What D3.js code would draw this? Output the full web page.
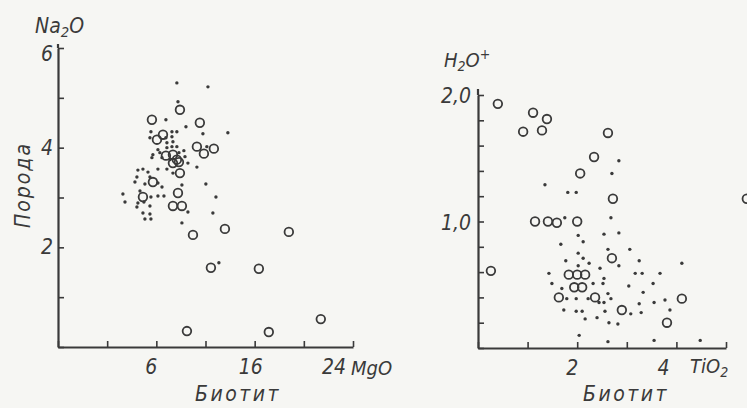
<!DOCTYPE html>
<html><head><meta charset="utf-8">
<script src="https://cdn.jsdelivr.net/npm/d3@7"></script>
<style>
html,body{margin:0;padding:0;background:#f6f6f3;}
svg{display:block;}
text{font-family:"Liberation Sans Narrow","DejaVu Sans Condensed","Liberation Sans",sans-serif;font-style:italic;fill:#3a3a3a;}
</style></head><body>
<svg id="c" width="747" height="408"></svg>
<script>
// ---------- Left panel: Na2O (rock) vs MgO (biotite) ----------
const leftOpenMgO  = [9.92,7.64,11.54,8.54,8.05,11.30,11.87,12.68,8.78,9.35,9.67,9.35,9.84,9.92,7.72,6.91,9.76,9.35,10.08,10.98,13.58,18.78,12.44,16.34,10.49,17.15,21.38];
const leftOpenNa2O = [4.76,4.56,4.50,4.26,4.16,4.02,3.88,3.98,3.84,3.86,3.76,3.69,3.71,3.49,3.31,3.01,3.09,2.83,2.83,2.25,2.37,2.31,1.59,1.57,0.32,0.30,0.56];
const leftDotMgO  = [9.67,12.20,9.76,8.78,10.41,11.79,13.82,7.56,9.27,9.67,7.48,8.78,9.27,8.86,9.35,12.11,8.13,8.86,9.27,9.67,7.72,8.29,9.84,10.24,7.64,8.46,10.33,9.11,10.57,11.30,6.50,6.91,7.32,8.13,8.86,9.35,6.42,7.48,6.26,7.07,8.13,8.46,10.08,12.03,6.67,5.28,7.56,8.13,8.62,5.45,6.50,6.99,12.85,6.42,7.48,10.57,12.60,6.91,7.48,7.07,7.56,10.08,13.09];
const leftDotNa2O = [5.30,5.22,4.92,4.56,4.42,4.28,4.30,4.32,4.32,4.32,4.20,4.20,4.22,4.10,4.12,4.02,3.96,4.00,4.02,4.02,3.86,3.90,3.90,3.94,3.80,3.80,3.82,3.76,3.69,3.61,3.55,3.57,3.51,3.57,3.57,3.49,3.41,3.41,3.31,3.27,3.29,3.21,3.25,3.27,3.13,3.07,3.01,3.03,3.03,2.91,2.89,2.91,3.01,2.81,2.83,2.71,2.69,2.69,2.67,2.57,2.57,2.49,1.69];
const leftXTicks = [0,4,8,12,16,20,24];
const leftXLabelValues = [8,16,24];
const leftXLabelTexts  = ["6","16","24"];
const leftYTicks = [0,1,2,3,4,5,6];
const leftYLabelValues = [2,4,6];
const leftYLabelTexts  = ["2","4","6"];

// ---------- Right panel: H2O+ (rock) vs TiO2 (biotite) ----------
const rightOpenTiO2 = [0.40,1.11,1.39,0.91,1.29,2.62,2.34,2.06,2.72,1.15,1.41,1.59,2.00,0.26,2.70,1.83,2.00,2.16,1.94,2.10,1.63,2.36,2.90,4.11,3.81,5.42];
const rightOpenH2O  = [1.93,1.86,1.81,1.71,1.72,1.70,1.51,1.38,1.18,1.00,1.00,0.99,1.00,0.61,0.71,0.58,0.58,0.58,0.48,0.48,0.40,0.40,0.30,0.39,0.20,1.18];
const rightDotTiO2 = [2.84,2.70,1.35,1.81,1.98,2.68,1.75,2.02,2.54,2.84,1.67,2.12,2.62,3.06,2.02,1.77,2.12,2.24,2.02,2.84,3.25,4.11,2.46,1.43,3.17,3.31,3.67,2.54,1.49,1.69,2.32,2.52,3.04,3.53,3.33,1.79,1.98,2.22,2.62,2.68,2.44,2.54,3.25,3.55,3.77,3.87,1.73,1.98,2.10,2.56,3.08,3.29,2.16,2.40,2.64,2.82,2.04,2.62,3.55,4.48];
const rightDotH2O  = [1.48,1.38,1.29,1.23,1.23,1.03,1.03,0.89,0.90,0.91,0.82,0.84,0.78,0.78,0.75,0.69,0.71,0.67,0.65,0.65,0.69,0.67,0.63,0.59,0.59,0.59,0.59,0.55,0.51,0.47,0.51,0.51,0.49,0.51,0.44,0.39,0.39,0.39,0.43,0.39,0.36,0.36,0.35,0.36,0.38,0.30,0.30,0.29,0.29,0.29,0.27,0.28,0.23,0.24,0.20,0.19,0.10,0.05,0.06,0.06];
const rightXTicks = [0,1,2,3,4,5];
const rightXLabelValues = [2,4];
const rightXLabelTexts  = ["2","4"];
const rightYTicks = [0,0.2,0.4,0.6,0.8,1.0,1.2,1.4,1.6,1.8,2.0];
const rightYLabelValues = [1,2];
const rightYLabelTexts  = ["1,0","2,0"];

const ink = "#3a3a3a";
const svg = d3.select("#c");

function panel(cfg){
  const x = d3.scaleLinear().domain(cfg.xDomain).range(cfg.xRange);
  const y = d3.scaleLinear().domain(cfg.yDomain).range(cfg.yRange);
  const g = svg.append("g");
  const ax = g.append("g").attr("transform",`translate(0,${cfg.yRange[0]})`)
    .call(d3.axisBottom(x).tickValues(cfg.xTicks).tickSize(-6).tickSizeOuter(0).tickFormat(""));
  const ay = g.append("g").attr("transform",`translate(${cfg.xRange[0]},0)`)
    .call(d3.axisLeft(y).tickValues(cfg.yTicks).tickSize(-6).tickSizeOuter(0).tickFormat(""));
  [ax,ay].forEach(a=>{
    a.select(".domain").attr("stroke",ink).attr("stroke-width",2.2);
    a.selectAll(".tick line").attr("stroke",ink).attr("stroke-width",1.6);
  });
  g.append("line").attr("x1",cfg.xRange[0]).attr("x2",cfg.xRange[0])
    .attr("y1",cfg.yRange[1]).attr("y2",cfg.yRange[1]-cfg.yExt)
    .attr("stroke",ink).attr("stroke-width",2.2);
  g.selectAll(null).data(cfg.xLabelValues).join("text")
    .attr("x",(d,i)=>x(d)+cfg.xLabelDx[i]).attr("y",cfg.yRange[0]+27)
    .attr("text-anchor","middle").attr("font-size",21).text((d,i)=>cfg.xLabelTexts[i]);
  g.selectAll(null).data(cfg.yLabelValues).join("text")
    .attr("x",cfg.yLabelX).attr("y",(d,i)=>y(d)+7+cfg.yLabelDy[i])
    .attr("text-anchor","end").attr("font-size",21).text((d,i)=>cfg.yLabelTexts[i]);
  g.selectAll(null).data(cfg.dotX).join("circle")
    .attr("cx",d=>x(d)).attr("cy",(d,i)=>y(cfg.dotY[i])).attr("r",1.7).attr("fill",ink);
  g.selectAll(null).data(cfg.openX).join("circle")
    .attr("cx",d=>x(d)).attr("cy",(d,i)=>y(cfg.openY[i])).attr("r",4.3)
    .attr("fill","none").attr("stroke",ink).attr("stroke-width",1.8);
  return {x,y,g};
}

panel({xDomain:[0,24],xRange:[58,353],yDomain:[0,6],yRange:[347,48],yExt:4,
  xTicks:leftXTicks,yTicks:leftYTicks,
  xLabelValues:leftXLabelValues,xLabelTexts:leftXLabelTexts,xLabelDx:[-5,-4,-19],
  yLabelValues:leftYLabelValues,yLabelTexts:leftYLabelTexts,yLabelX:53,yLabelDy:[0,0,6],
  openX:leftOpenMgO,openY:leftOpenNa2O,dotX:leftDotMgO,dotY:leftDotNa2O});

panel({xDomain:[0,5],xRange:[478,726],yDomain:[0,2],yRange:[348,95],yExt:6,
  xTicks:rightXTicks,yTicks:rightYTicks,
  xLabelValues:rightXLabelValues,xLabelTexts:rightXLabelTexts,xLabelDx:[-5,-13],
  yLabelValues:rightYLabelValues,yLabelTexts:rightYLabelTexts,yLabelX:471,yLabelDy:[1,1],
  openX:rightOpenTiO2,openY:rightOpenH2O,dotX:rightDotTiO2,dotY:rightDotH2O});

function chem(x,y,parts,size,anchor){
  const t = svg.append("text").attr("x",x).attr("y",y).attr("font-size",size).attr("text-anchor",anchor||"start");
  parts.forEach(p=>{
    const s = t.append("tspan").text(p.t);
    if(p.sub) s.attr("font-size",size*0.7).attr("dy",4);
    if(p.sup) s.attr("font-size",size*0.7).attr("dy",-8);
    if(p.back) s.attr("dy",p.back);
  });
  return t;
}
chem(35,33,[{t:"Na"},{t:"2",sub:true},{t:"O",back:-4}],21);
chem(351,375,[{t:"MgO"}],20);
chem(444,67,[{t:"H"},{t:"2",sub:true},{t:"O",back:-4},{t:"+",sup:true}],20);
chem(690,373,[{t:"TiO"},{t:"2",sub:true}],20);

svg.append("text").attr("x",238).attr("y",401).attr("text-anchor","middle")
  .attr("font-size",21).attr("letter-spacing",2.5).text("Биотит");
svg.append("text").attr("x",626).attr("y",401).attr("text-anchor","middle")
  .attr("font-size",21).attr("letter-spacing",2.5).text("Биотит");
svg.append("text").attr("transform","translate(30,185) rotate(-90)").attr("text-anchor","middle")
  .attr("font-size",21).attr("letter-spacing",2).text("Порода");
</script>
</body></html>
